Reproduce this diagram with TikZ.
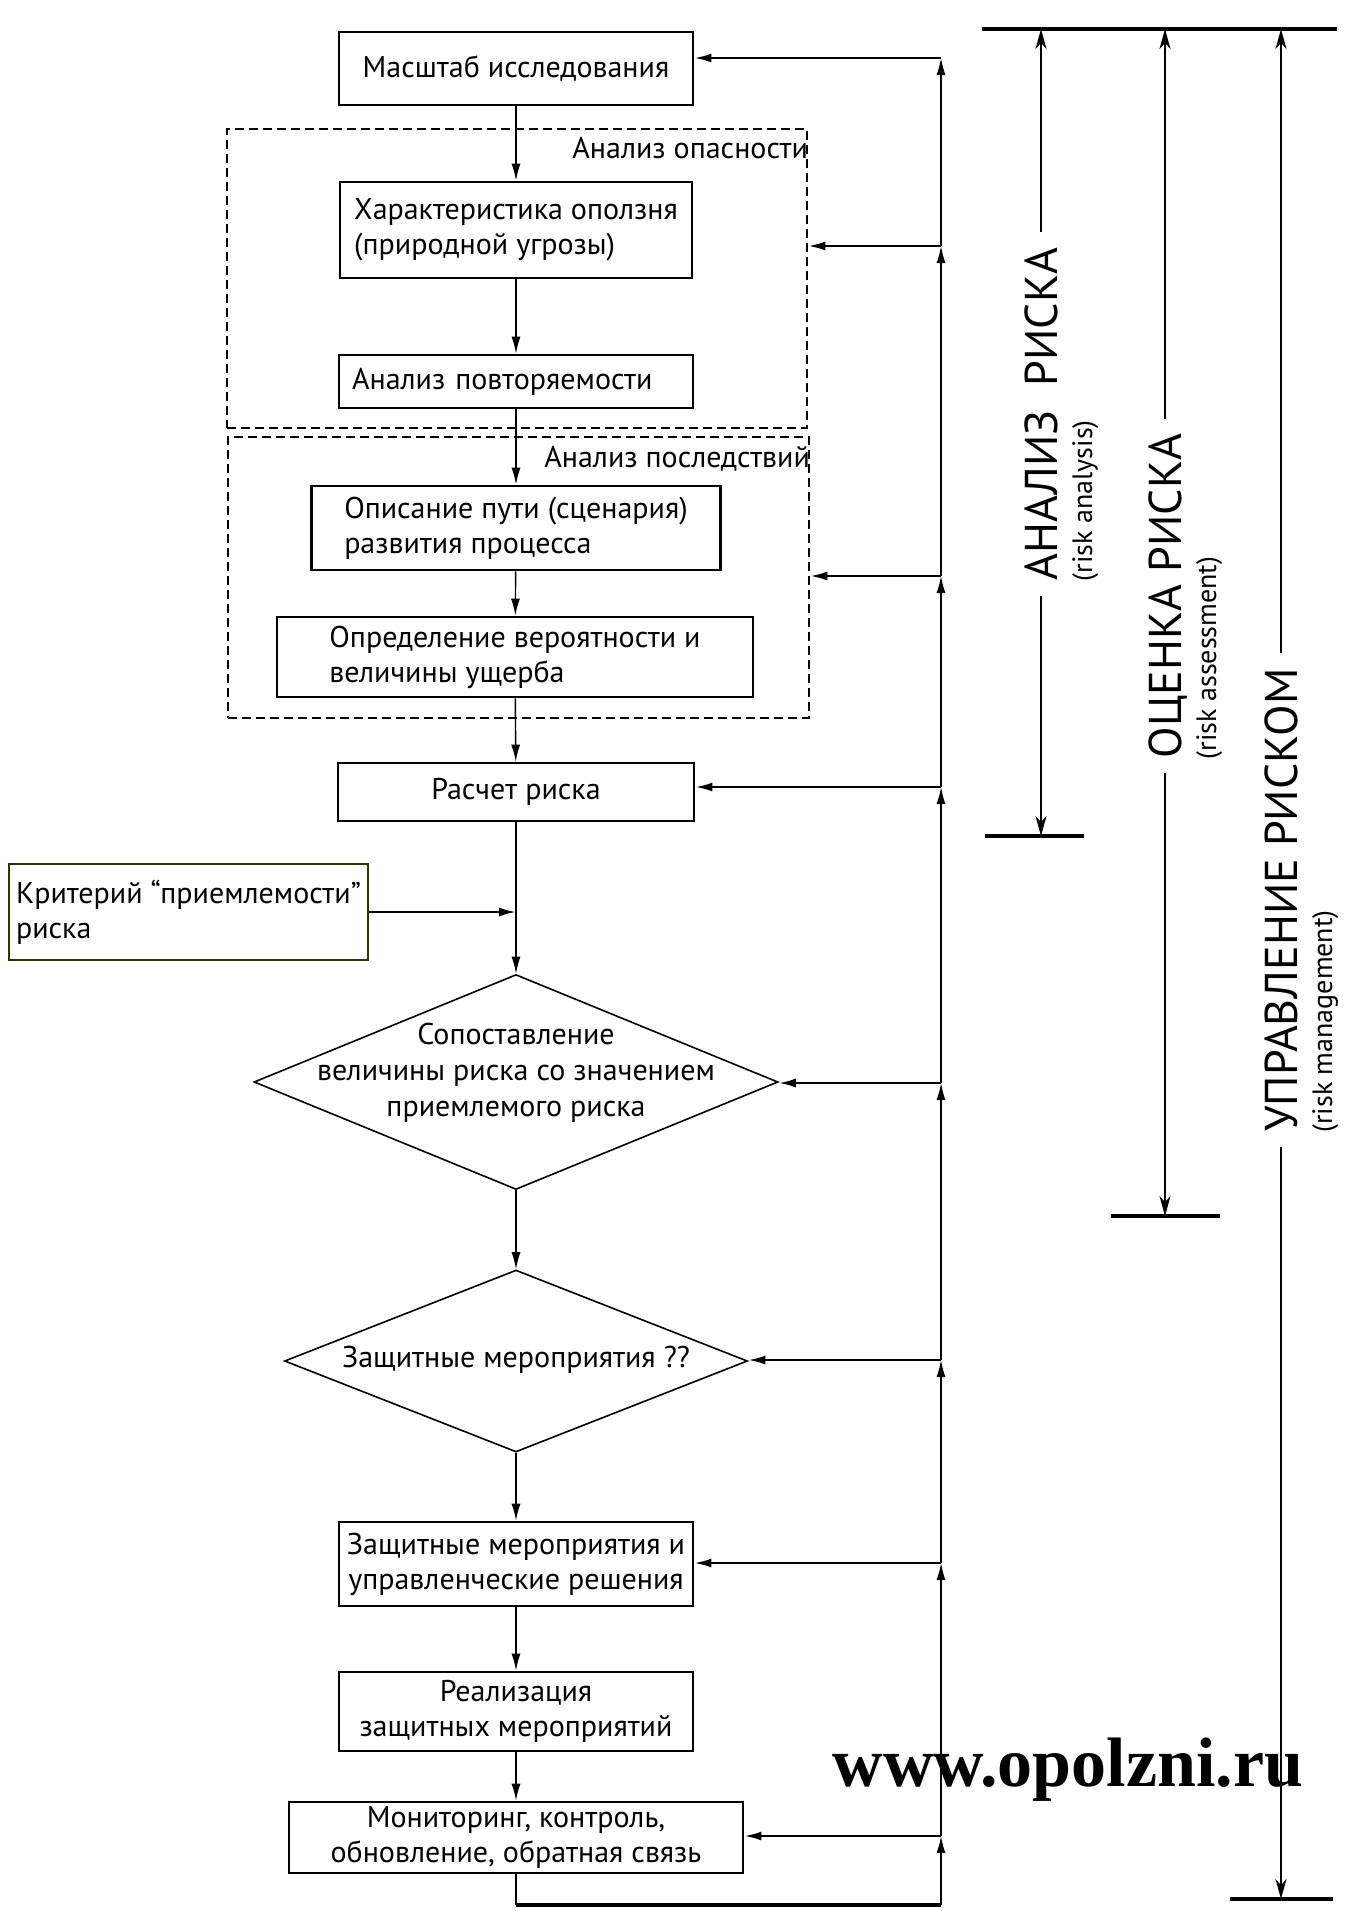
\documentclass[tikz,border=0pt]{standalone}
\usepackage{fontspec}
\setmainfont{PT Sans}
\newfontfamily\sitefont{Liberation Serif}
\usetikzlibrary{shapes.geometric, arrows.meta, positioning, calc}
\definecolor{critline}{HTML}{333300}
\tikzset{block/.style={draw, rectangle, line width=1.4pt, inner sep=0pt, align=center,
                       font=\fontsize{15}{17.5}\selectfont},
         note/.style={inner sep=0pt, font=\fontsize{15}{17.5}\selectfont},
         group/.style={draw, rectangle, line width=1.3pt, dash pattern=on 4.5pt off 2.5pt},
         decision/.style={draw, diamond, line width=0.8pt, inner sep=0pt},
         phase/.style={rotate=90, inner xsep=7.5pt, inner ysep=0pt, text depth=0pt,
                       font=\fontsize{23}{23}\selectfont},
         phasesub/.style={rotate=90, inner sep=7pt, font=\fontsize{14}{14}\selectfont},
         flow/.style={->, line width=0.7pt},
         back/.style={->, line width=1.1pt},
         span/.style={line width=0.7pt, -{Stealth[length=10pt, width=5.5pt, inset=3pt]}},
         bar/.style={line width=1.6pt},
         >={Latex[length=8.5pt, width=4.5pt]}}

\begin{document}
\begin{tikzpicture}[x=0.5pt, y=-0.5pt]
    \useasboundingbox (0,0) rectangle (1344,1911);
    \node[font=\sitefont\bfseries\fontsize{35}{35}\selectfont, anchor=base] (site) at (1068,1786) {www.opolzni.ru};

    % main column
    \node[block, minimum width=177pt, minimum height=36.5pt] (scope) at (516,68.5) {Масштаб исследования};
    \node[group, minimum width=290pt, minimum height=149.5pt] (haz) at (517,278.5) {};
    \node[note, below left=4.5pt and 0pt of haz.north east] (hazname) {Анализ опасности};
    \node[block, align=left, minimum width=176pt, minimum height=48pt] (char) at (516,230) {Характеристика оползня\\(природной угрозы)};
    \node[block, align=left, text width=164pt, inner xsep=6.5pt, minimum height=26.5pt] (recur) at (516,381.5) {Анализ повторяемости};
    \node[group, minimum width=290.5pt, minimum height=140.5pt] (cons) at (518.5,577.5) {};
    \node[note, below left=5pt and 0pt of cons.north east] (consname) {Анализ последствий};
    \node[block, align=left, minimum width=204.5pt, minimum height=42pt] (scen) at (516,528) {Описание пути (сценария)\\развития процесса};
    \node[block, align=left, minimum width=238pt, minimum height=40pt] (prob) at (515,657) {Определение вероятности и\\величины ущерба};
    \node[block, minimum width=178pt, minimum height=29pt] (calc) at (516,792) {Расчет риска};
    \node[block, draw=critline, align=left, minimum width=179.5pt, minimum height=48pt] (crit) at (188.5,912) {Критерий “приемлемости”\\риска};
    \node[decision, minimum width=262pt, minimum height=107.5pt] (cmp) at (516,1082) {};
    \node[note, align=center, font=\fontsize{15}{18}\selectfont] (cmptext) at (516,1073) {Сопоставление\\величины риска со значением\\приемлемого риска};
    \node[decision, minimum width=231.5pt, minimum height=91pt] (prot) at (516,1361) {};
    \node[note] (prottext) at (516,1360) {Защитные мероприятия ??};
    \node[block, minimum width=177pt, minimum height=42pt] (meas) at (516,1564) {Защитные мероприятия и\\управленческие решения};
    \node[block, minimum width=177pt, minimum height=39.5pt] (impl) at (516,1711.5) {Реализация\\защитных мероприятий};
    \node[block, minimum width=227pt, minimum height=35.5pt] (mon) at (516,1837.5) {Мониторинг, контроль,\\обновление, обратная связь};

    \draw[flow] (scope) -- (char);
    \draw[flow] (char) -- (recur);
    \draw[flow] (recur) -- (scen);
    \draw[flow] (scen) -- (prob);
    \draw[flow] (prob) -- (calc);
    \draw[flow] (calc) -- (cmp);
    \draw[back] (crit.east) -- (crit.east -| calc.south);
    \draw[flow] (cmp) -- (prot);
    \draw[flow] (prot) -- (meas);
    \draw[flow] (meas) -- (impl);
    \draw[flow] (impl) -- (mon);

    % feedback line
    \coordinate (j1) at (941,58);
    \coordinate (j2) at (941,246);
    \coordinate (j3) at (941,576);
    \coordinate (j4) at (941,787);
    \coordinate (j5) at (941,1083);
    \coordinate (j6) at (941,1360);
    \coordinate (j7) at (941,1563);
    \coordinate (j8) at (941,1836);
    \coordinate (jb) at (941,1905);
    \draw[line width=0.7pt] (mon.south) -- (mon.south |- jb);
    \draw[bar] (mon.south |- jb) -- (jb);
    \foreach \a/\b in {jb/j8, j8/j7, j7/j6, j6/j5, j5/j4, j4/j3, j3/j2, j2/j1}
        \draw[flow] (\a) -- (\b);
    \foreach \j/\n in {j1/scope, j2/haz, j3/cons, j4/calc, j5/cmp, j6/prot, j7/meas, j8/mon}
        \draw[back] (\j) -- (\j -| \n.east);

    % scale on the right
    \coordinate (top) at (982,29);
    \draw[bar] (top) -- (1337,29);
    \node[phase] (ana) at (1041,414) {АНАЛИЗ~~РИСКА};
    \node[phasesub, anchor=north west] (anasub) at (ana.south west) {(risk analysis)};
    \node[phase] (ass) at (1165,596) {ОЦЕНКА РИСКА};
    \node[phasesub, anchor=north west] (asssub) at (ass.south west) {(risk assessment)};
    \node[phase] (man) at (1281,900) {УПРАВЛЕНИЕ РИСКОМ};
    \node[phasesub, anchor=north west] (mansub) at (man.south west) {(risk management)};
    \coordinate (anaend) at (1041,836);
    \coordinate (assend) at (1165,1216);
    \coordinate (manend) at (1281,1899);
    \draw[span] (ana.east) -- (ana.east |- top);
    \draw[span] (ana.west) -- (anaend);
    \draw[span] (ass.east) -- (ass.east |- top);
    \draw[span] (ass.west) -- (assend);
    \draw[span] (man.east) -- (man.east |- top);
    \draw[span] (man.west) -- (manend);
    \draw[bar] (985,836) -- (1084,836);
    \draw[bar] (1111,1216) -- (1220,1216);
    \draw[bar] (1230,1899) -- (1333,1899);
\end{tikzpicture}
\end{document}
